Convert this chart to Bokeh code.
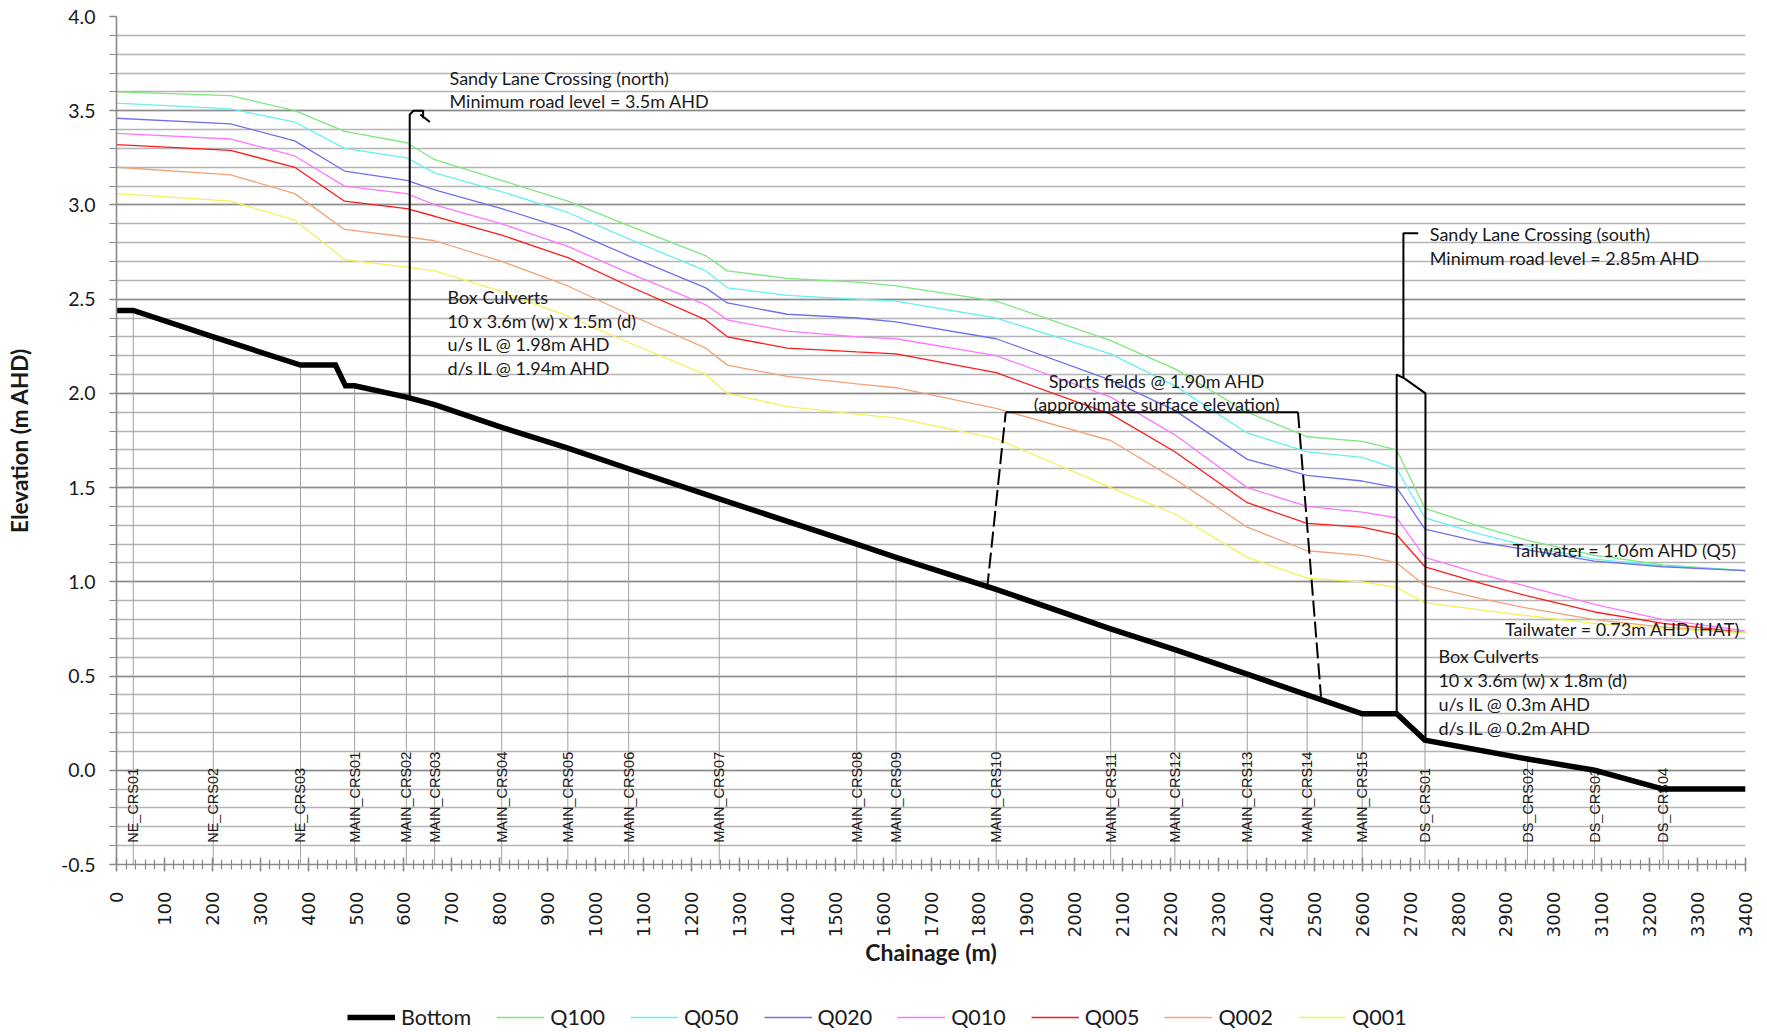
import math
from bokeh.plotting import figure
from bokeh.layouts import column
from bokeh.models import (FixedTicker, PrintfTickFormatter, Legend, LegendItem, Label, Range1d)
from bokeh.embed import file_html
from bokeh.resources import INLINE
from bokeh.core.properties import value

# ---------------- data ----------------
bed_ch = [0, 35, 202, 384, 457, 478, 497, 605, 664, 804, 942, 1069, 1258, 1545, 1627,
          1836, 2075, 2209, 2360, 2485, 2600, 2672, 2731, 2945, 3085, 3228, 3400]
bed_el = [2.44, 2.44, 2.30, 2.15, 2.15, 2.04, 2.04, 1.98, 1.94, 1.82, 1.71, 1.60, 1.44, 1.20, 1.13,
          0.96, 0.75, 0.64, 0.51, 0.40, 0.30, 0.30, 0.16, 0.06, 0.00, -0.10, -0.10]

xs_names = ["NE_CRS01", "NE_CRS02", "NE_CRS03", "MAIN_CRS01", "MAIN_CRS02", "MAIN_CRS03",
            "MAIN_CRS04", "MAIN_CRS05", "MAIN_CRS06", "MAIN_CRS07", "MAIN_CRS08", "MAIN_CRS09",
            "MAIN_CRS10", "MAIN_CRS11", "MAIN_CRS12", "MAIN_CRS13", "MAIN_CRS14", "MAIN_CRS15",
            "DS_CRS01", "DS_CRS02", "DS_CRS03", "DS_CRS04"]
xs_ch = [35, 202, 384, 497, 605, 664, 804, 942, 1069, 1258, 1545, 1627, 1836, 2075, 2209,
         2360, 2485, 2600, 2731, 2945, 3085, 3228]
xs_bed = [2.44, 2.30, 2.15, 2.04, 1.98, 1.94, 1.82, 1.71, 1.60, 1.44, 1.20, 1.13, 0.96, 0.75,
          0.64, 0.51, 0.40, 0.30, 0.16, 0.06, 0.00, -0.10]

wl_ch = [0, 238, 372, 476, 606, 664, 804, 942, 1069, 1230, 1275, 1400, 1545, 1627, 1836,
         2075, 2209, 2360, 2485, 2600, 2672, 2731, 2850, 2945, 3085, 3228, 3400]
q100 = [3.60, 3.58, 3.50, 3.39, 3.33, 3.24, 3.13, 3.02, 2.89, 2.73, 2.65, 2.61, 2.59, 2.57, 2.49,
        2.28, 2.13, 1.90, 1.77, 1.745, 1.70, 1.39, 1.29, 1.22, 1.14, 1.09, 1.06]
q050 = [3.54, 3.51, 3.44, 3.30, 3.25, 3.17, 3.07, 2.96, 2.82, 2.65, 2.56, 2.52, 2.50, 2.49, 2.40,
        2.21, 2.04, 1.79, 1.69, 1.66, 1.60, 1.34, 1.25, 1.19, 1.12, 1.085, 1.06]
q020 = [3.46, 3.43, 3.34, 3.18, 3.13, 3.08, 2.98, 2.87, 2.73, 2.56, 2.48, 2.42, 2.40, 2.38, 2.29,
        2.07, 1.91, 1.65, 1.565, 1.535, 1.50, 1.28, 1.21, 1.17, 1.11, 1.08, 1.06]
q010 = [3.38, 3.35, 3.26, 3.10, 3.06, 3.00, 2.90, 2.78, 2.64, 2.47, 2.39, 2.33, 2.30, 2.29, 2.20,
        1.98, 1.78, 1.50, 1.40, 1.37, 1.34, 1.13, 1.04, 0.975, 0.88, 0.80, 0.74]
q005 = [3.32, 3.29, 3.20, 3.02, 2.98, 2.94, 2.84, 2.72, 2.57, 2.39, 2.30, 2.24, 2.22, 2.21, 2.11,
        1.89, 1.69, 1.42, 1.31, 1.29, 1.25, 1.08, 0.99, 0.925, 0.84, 0.78, 0.73]
q002 = [3.20, 3.16, 3.06, 2.87, 2.83, 2.81, 2.70, 2.57, 2.42, 2.24, 2.15, 2.09, 2.05, 2.03, 1.92,
        1.75, 1.545, 1.29, 1.165, 1.14, 1.10, 0.98, 0.91, 0.86, 0.80, 0.76, 0.73]
q001 = [3.06, 3.02, 2.92, 2.71, 2.67, 2.65, 2.54, 2.41, 2.27, 2.10, 2.00, 1.93, 1.89, 1.87, 1.76,
        1.50, 1.36, 1.13, 1.02, 1.00, 0.97, 0.89, 0.85, 0.82, 0.78, 0.75, 0.73]

series_names = ["Q100", "Q050", "Q020", "Q010", "Q005", "Q002", "Q001"]
series_vals = [q100, q050, q020, q010, q005, q002, q001]
series_colors = ["#7de87d", "#66f0f0", "#7070ee", "#ff77ff", "#ff1a1a", "#f2a378", "#f2f25a"]

# structures
north_x = [612, 612, 620, 640, 640]
north_y = [1.98, 3.48, 3.50, 3.50, 3.46]
north_hook_x = [634, 654]
north_hook_y = [3.48, 3.44]
south_box_x = [2672, 2672, 2688, 2732, 2732]
south_box_y = [0.30, 2.10, 2.08, 2.00, 0.16]
south_post_x = [2686, 2686, 2717]
south_post_y = [2.08, 2.85, 2.85]
field_left_x = [1817, 1856]
field_left_y = [0.96, 1.90]
field_top_x = [1856, 2466]
field_top_y = [1.90, 1.90]
field_right_x = [2466, 2514]
field_right_y = [1.90, 0.39]

x_ticks = list(range(0, 3401, 100))
x_minor = list(range(0, 3401, 20))
y_ticks = [-0.5, 0.0, 0.5, 1.0, 1.5, 2.0, 2.5, 3.0, 3.5, 4.0]
y_minor = [round(-0.5 + 0.1 * i, 1) for i in range(46)]

FONT = "Lato"
TXT = "#1a1a1a"

p = figure(frame_width=1629, frame_height=848, x_range=Range1d(0, 3400), y_range=Range1d(-0.5, 4.0),
           output_backend="svg", toolbar_location=None,
           min_border_left=116, min_border_right=12, min_border_top=16, min_border_bottom=120)
p.outline_line_color = None
p.background_fill_color = "white"

# grid
p.xgrid.visible = False
p.ygrid.ticker = FixedTicker(ticks=y_ticks, minor_ticks=y_minor)
p.ygrid.grid_line_color = "#8c8c8c"
p.ygrid.grid_line_width = 1.6
p.ygrid.minor_grid_line_color = "#b4b4b4"
p.ygrid.minor_grid_line_width = 1.6

# axes
p.xaxis.ticker = FixedTicker(ticks=x_ticks, minor_ticks=x_minor)
p.xaxis.major_label_orientation = math.pi / 2
p.xaxis.major_label_text_font = "DejaVu Sans"
p.xaxis.major_label_text_font_size = "18px"
p.xaxis.major_label_text_color = TXT
p.xaxis.major_tick_in = 7
p.xaxis.major_tick_out = 7
p.xaxis.minor_tick_in = 5
p.xaxis.minor_tick_out = 5
p.xaxis.major_label_standoff = 20
p.xaxis.axis_label = "Chainage (m)"
p.xaxis.axis_label_text_font = FONT
p.xaxis.axis_label_text_font_style = "bold"
p.xaxis.axis_label_text_font_size = "23px"
p.xaxis.axis_label_text_color = TXT
p.xaxis.axis_label_standoff = -2

p.yaxis.ticker = FixedTicker(ticks=y_ticks, minor_ticks=y_minor)
p.yaxis.formatter = PrintfTickFormatter(format="%.1f")
p.yaxis.major_label_text_font = FONT
p.yaxis.major_label_text_font_size = "19.5px"
p.yaxis.major_label_text_color = TXT
p.yaxis.major_tick_in = 0
p.yaxis.major_tick_out = 7
p.yaxis.minor_tick_in = 0
p.yaxis.minor_tick_out = 7
p.yaxis.major_label_standoff = 14
p.yaxis.axis_label = "Elevation (m AHD)"
p.yaxis.axis_label_text_font = FONT
p.yaxis.axis_label_text_font_style = "bold"
p.yaxis.axis_label_text_font_size = "22.5px"
p.yaxis.axis_label_text_color = TXT
p.yaxis.axis_label_standoff = 25

for ax in (p.xaxis, p.yaxis):
    ax.axis_line_color = "#8a8a8a"
    ax.axis_line_width = 1.6
    ax.major_tick_line_color = "#8a8a8a"
    ax.minor_tick_line_color = "#8a8a8a"
    ax.major_tick_line_width = 1.5
    ax.minor_tick_line_width = 1.2

# drop lines at cross-sections
p.segment(x0=xs_ch, y0=[-0.5] * len(xs_ch), x1=xs_ch, y1=xs_bed, line_color="#a0a0a0", line_width=1)

# cross-section labels
p.text(x=xs_ch, y=[-0.385] * len(xs_ch), text=xs_names, angle=math.pi / 2,
       text_align="left", text_baseline="middle", text_font=value("Liberation Sans"),
       text_font_size="14.5px", text_color=TXT)

# water level series
for name, vals, col in zip(series_names, series_vals, series_colors):
    p.line(wl_ch, vals, line_color=col, line_width=1.3)

# structures
p.line(north_x, north_y, line_color="black", line_width=2)
p.line(north_hook_x, north_hook_y, line_color="black", line_width=2)
p.line(south_box_x, south_box_y, line_color="black", line_width=2)
p.line(south_post_x, south_post_y, line_color="black", line_width=2)
p.line(field_left_x, field_left_y, line_color="black", line_width=2, line_dash="16 5")
p.line(field_top_x, field_top_y, line_color="black", line_width=2)
p.line(field_right_x, field_right_y, line_color="black", line_width=2, line_dash="16 5")

# bed
p.line(bed_ch, bed_el, line_color="black", line_width=5.5, line_join="miter")

# annotations
def note(x, y, txt, align="left"):
    p.add_layout(Label(x=x, y=y, text=txt, text_font=FONT, text_font_size="18px",
                       text_color=TXT, text_align=align, text_baseline="middle"))

note(695, 3.673, "Sandy Lane Crossing (north)")
note(695, 3.55, "Minimum road level = 3.5m AHD")
note(691, 2.511, "Box Culverts")
note(691, 2.386, "10 x 3.6m (w) x 1.5m (d)")
note(691, 2.26, "u/s IL @ 1.98m AHD")
note(691, 2.134, "d/s IL @ 1.94m AHD")
note(2171, 2.067, "Sports fields @ 1.90m AHD", align="center")
note(2171, 1.944, "(approximate surface elevation)", align="center")
note(2741, 2.846, "Sandy Lane Crossing (south)")
note(2741, 2.72, "Minimum road level = 2.85m AHD")
note(2914, 1.171, "Tailwater = 1.06m AHD (Q5)")
note(2898, 0.748, "Tailwater = 0.73m AHD (HAT)")
note(2759, 0.608, "Box Culverts")
note(2759, 0.48, "10 x 3.6m (w) x 1.8m (d)")
note(2759, 0.352, "u/s IL @ 0.3m AHD")
note(2759, 0.225, "d/s IL @ 0.2m AHD")

# ---------------- legend strip (second figure) ----------------
p2 = figure(width=1757, height=46, x_range=Range1d(0, 1), y_range=Range1d(0, 1),
            output_backend="svg", toolbar_location=None,
            x_axis_location=None, y_axis_location=None, min_border=0)
p2.grid.visible = False
p2.outline_line_color = None

# legend swatches: lines placed outside the visible range so only the legend shows them
off_x = [5, 6]
off_y = [5, 6]
items = [LegendItem(label="Bottom",
                    renderers=[p2.line(x=off_x, y=off_y, line_color="black", line_width=5.5)])]
for name, col in zip(series_names, series_colors):
    items.append(LegendItem(label=name,
                            renderers=[p2.line(x=off_x, y=off_y, line_color=col, line_width=1.3)]))
legend = Legend(items=items, orientation="horizontal", location=(231, 0),
                label_text_font=FONT, label_text_font_size="21.5px", label_text_color=TXT,
                glyph_width=48, glyph_height=24, label_height=24, label_standoff=6, spacing=25,
                padding=0, margin=0, border_line_color=None, background_fill_alpha=0)
p2.add_layout(legend)

layout = column(p, p2, spacing=0)
open("out.html", "w").write(file_html(layout, INLINE))
